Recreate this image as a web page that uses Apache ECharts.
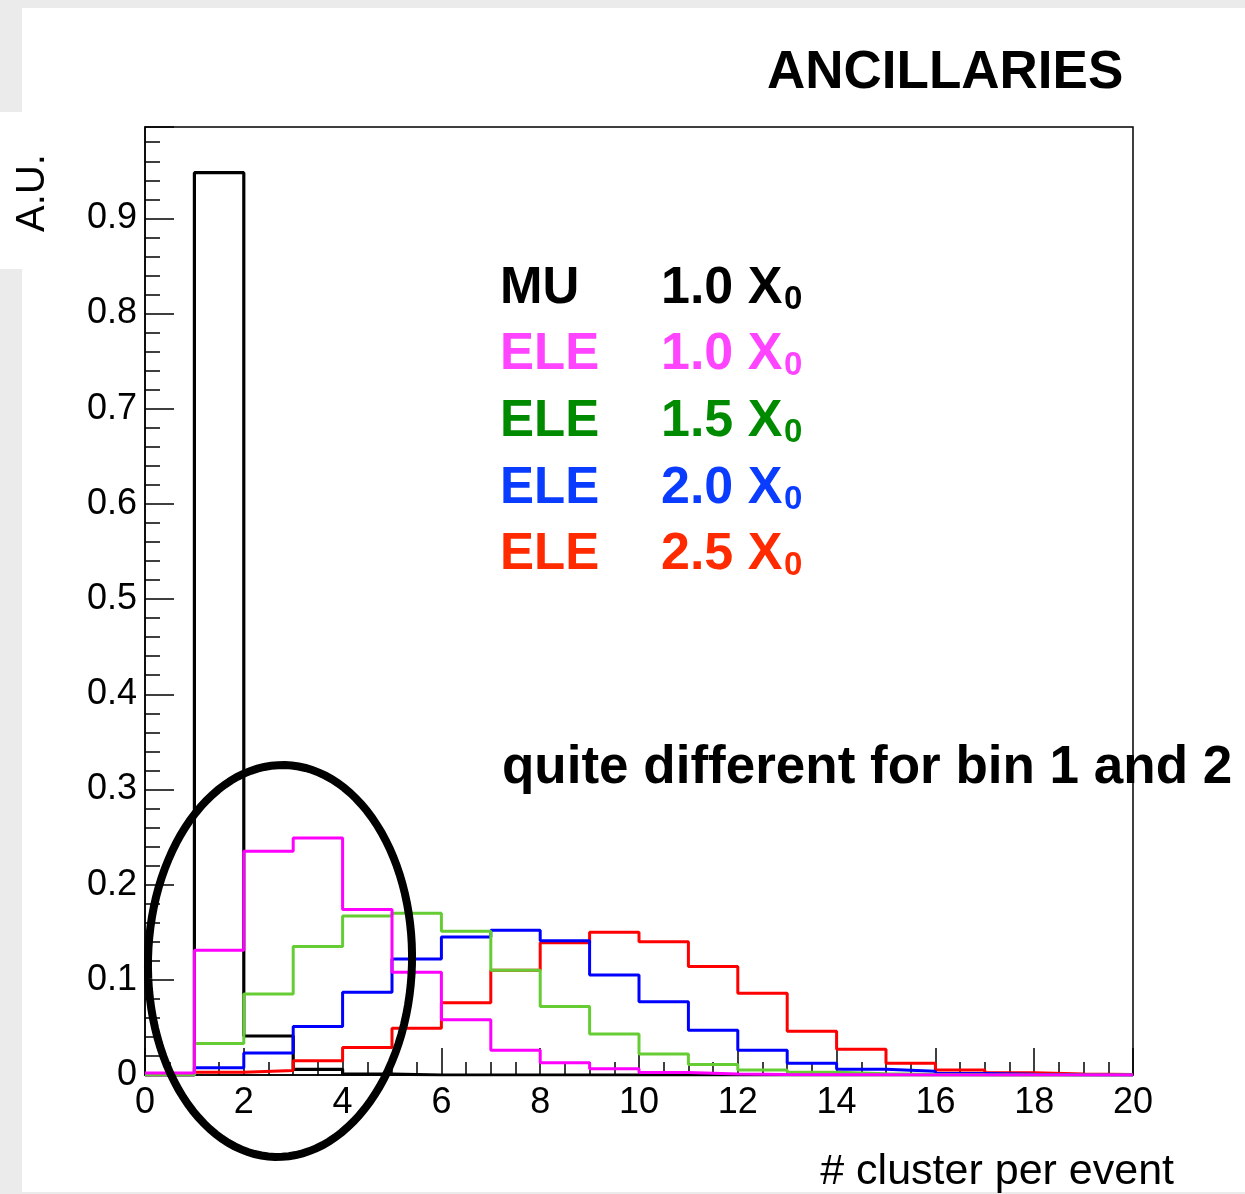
<!DOCTYPE html>
<html>
<head>
<meta charset="utf-8">
<style>
  html, body { margin: 0; padding: 0; background: #ebebeb; }
  #chart { width: 1245px; height: 1194px; }
</style>
<script src="https://cdn.jsdelivr.net/npm/echarts@6/dist/echarts.min.js"></script>
</head>
<body>
<div id="chart"></div>
<script>
// ---- data (bin edges 0..20, width 1) ----
const binEdges = [0,1,2,3,4,5,6,7,8,9,10,11,12,13,14,15,16,17,18,19,20];
const mu10  = [0, 0.948, 0.041, 0.006, 0.001, 0, 0, 0, 0, 0, 0, 0, 0, 0, 0, 0, 0, 0, 0, 0];
const ele10 = [0.002, 0.131, 0.235, 0.249, 0.174, 0.108, 0.058, 0.026, 0.013, 0.0066, 0.0025, 0.001, 0.0005, 0.0003, 0.0002, 0.0001, 0, 0, 0, 0];
const ele15 = [0, 0.033, 0.085, 0.135, 0.167, 0.170, 0.151, 0.110, 0.072, 0.043, 0.022, 0.011, 0.0053, 0.003, 0.0012, 0.0006, 0.0003, 0.0001, 0, 0];
const ele20 = [0, 0.0075, 0.023, 0.051, 0.087, 0.122, 0.145, 0.152, 0.141, 0.105, 0.077, 0.047, 0.026, 0.0123, 0.006, 0.0039, 0.0015, 0.0007, 0.0003, 0.0001];
const ele25 = [0, 0.003, 0.0046, 0.015, 0.029, 0.049, 0.076, 0.110, 0.139, 0.150, 0.140, 0.114, 0.086, 0.046, 0.027, 0.0123, 0.0053, 0.0024, 0.001, 0.0005];

const legendNames  = ['MU', 'ELE', 'ELE', 'ELE', 'ELE'];
const legendDepths = ['1.0', '1.0', '1.5', '2.0', '2.5'];
const titleText = 'ANCILLARIES';
const noteText = 'quite different for bin 1 and 2';
const xTitle = '# cluster per event';
const yTitle = 'A.U.';

// ---- styles ----
const FONT = '"Liberation Sans", Arial, Helvetica, sans-serif';
const lineColors = { mu: '#000000', e10: '#ff00ff', e15: '#66cc33', e20: '#0000ff', e25: '#ff0000' };
const textColors = ['#000000', '#ff44ff', '#008a00', '#0a3cff', '#ff2a00'];

function steps(vals) {
  return binEdges.map((x, i) => [x, vals[Math.min(i, vals.length - 1)]]);
}
function histSeries(name, vals, color, width) {
  return {
    name: name, type: 'line', step: 'end', data: steps(vals),
    symbol: 'none', showSymbol: false, animation: false,
    lineStyle: { color: color, width: width }, z: 3
  };
}

const chart = echarts.init(document.getElementById('chart'));

const graphics = [
  { type: 'rect', z: -10, shape: { x: 22, y: 8, width: 1223, height: 1184 }, style: { fill: '#ffffff' } },
  { type: 'rect', z: -10, shape: { x: 0, y: 112, width: 22, height: 157 }, style: { fill: '#ffffff' } },
  { type: 'text', z: 10, x: 767, y: 73, style: { text: titleText, font: 'bold 53px ' + FONT, fill: '#000', align: 'left', verticalAlign: 'middle' } },
  { type: 'text', z: 10, x: 502, y: 768, style: { text: noteText, font: 'bold 53px ' + FONT, fill: '#000', align: 'left', verticalAlign: 'middle' } },
  { type: 'text', z: 10, x: 1174, y: 1172, style: { text: xTitle, font: '43px ' + FONT, fill: '#000', align: 'right', verticalAlign: 'middle' } },
  { type: 'text', z: 10, x: 33, y: 193, rotation: Math.PI / 2, style: { text: yTitle, font: '40px ' + FONT, fill: '#000', align: 'center', verticalAlign: 'middle' } }
];
const rowY = [289, 355, 422, 489, 555];
legendNames.forEach((n, i) => {
  graphics.push({ type: 'text', z: 10, x: 500, y: rowY[i], style: { text: n, font: 'bold 51px ' + FONT, fill: textColors[i], align: 'left', verticalAlign: 'middle' } });
  graphics.push({ type: 'text', z: 10, x: 661, y: rowY[i], style: { text: legendDepths[i] + ' X', font: 'bold 52px ' + FONT, fill: textColors[i], align: 'left', verticalAlign: 'middle' } });
  graphics.push({ type: 'text', z: 10, x: 784, y: rowY[i] + 11, style: { text: '0', font: 'bold 33px ' + FONT, fill: textColors[i], align: 'left', verticalAlign: 'middle' } });
});
// hand-drawn style ellipse annotation
const ellPts = [];
const ecx = 280, ecy = 961, erx = 132, ery = 196, tilt = 0.025;
for (let k = 0; k < 120; k++) {
  const t = k / 120 * Math.PI * 2;
  const px = erx * Math.cos(t), py = ery * Math.sin(t);
  ellPts.push([ecx + px * Math.cos(tilt) - py * Math.sin(tilt), ecy + px * Math.sin(tilt) + py * Math.cos(tilt)]);
}
graphics.push({ type: 'polygon', z: 100, shape: { points: ellPts }, style: { fill: 'none', stroke: '#000', lineWidth: 8 } });

const option = {
  backgroundColor: '#ebebeb',
  animation: false,
  grid: { left: 145, top: 127, right: 112, bottom: 119, show: true, borderColor: '#000', borderWidth: 1.5, backgroundColor: 'transparent' },
  xAxis: {
    type: 'value', min: 0, max: 20, interval: 2,
    axisLine: { show: true, onZero: false, lineStyle: { color: '#000', width: 1.5 } },
    axisTick: { show: true, inside: true, length: 27, lineStyle: { color: '#000', width: 1.5 } },
    minorTick: { show: true, splitNumber: 4, length: 13, lineStyle: { color: '#000', width: 1.5 } },
    splitLine: { show: false },
    axisLabel: { color: '#000', fontSize: 36, fontFamily: FONT, margin: 10 }
  },
  yAxis: {
    type: 'value', min: 0, max: 0.996, interval: 0.1,
    axisLine: { show: true, lineStyle: { color: '#000', width: 1.5 } },
    axisTick: { show: true, inside: true, length: 29, lineStyle: { color: '#000', width: 1.5 } },
    minorTick: { show: true, splitNumber: 5, length: 15, lineStyle: { color: '#000', width: 1.5 } },
    splitLine: { show: false },
    axisLabel: { color: '#000', fontSize: 36, fontFamily: FONT, margin: 8, showMaxLabel: false }
  },
  graphic: graphics,
  series: [
    histSeries('MU 1.0 X0', mu10, lineColors.mu, 3.2),
    histSeries('ELE 2.5 X0', ele25, lineColors.e25, 3),
    histSeries('ELE 2.0 X0', ele20, lineColors.e20, 3),
    histSeries('ELE 1.5 X0', ele15, lineColors.e15, 3),
    histSeries('ELE 1.0 X0', ele10, lineColors.e10, 3)
  ]
};
chart.setOption(option);
</script>
</body>
</html>
